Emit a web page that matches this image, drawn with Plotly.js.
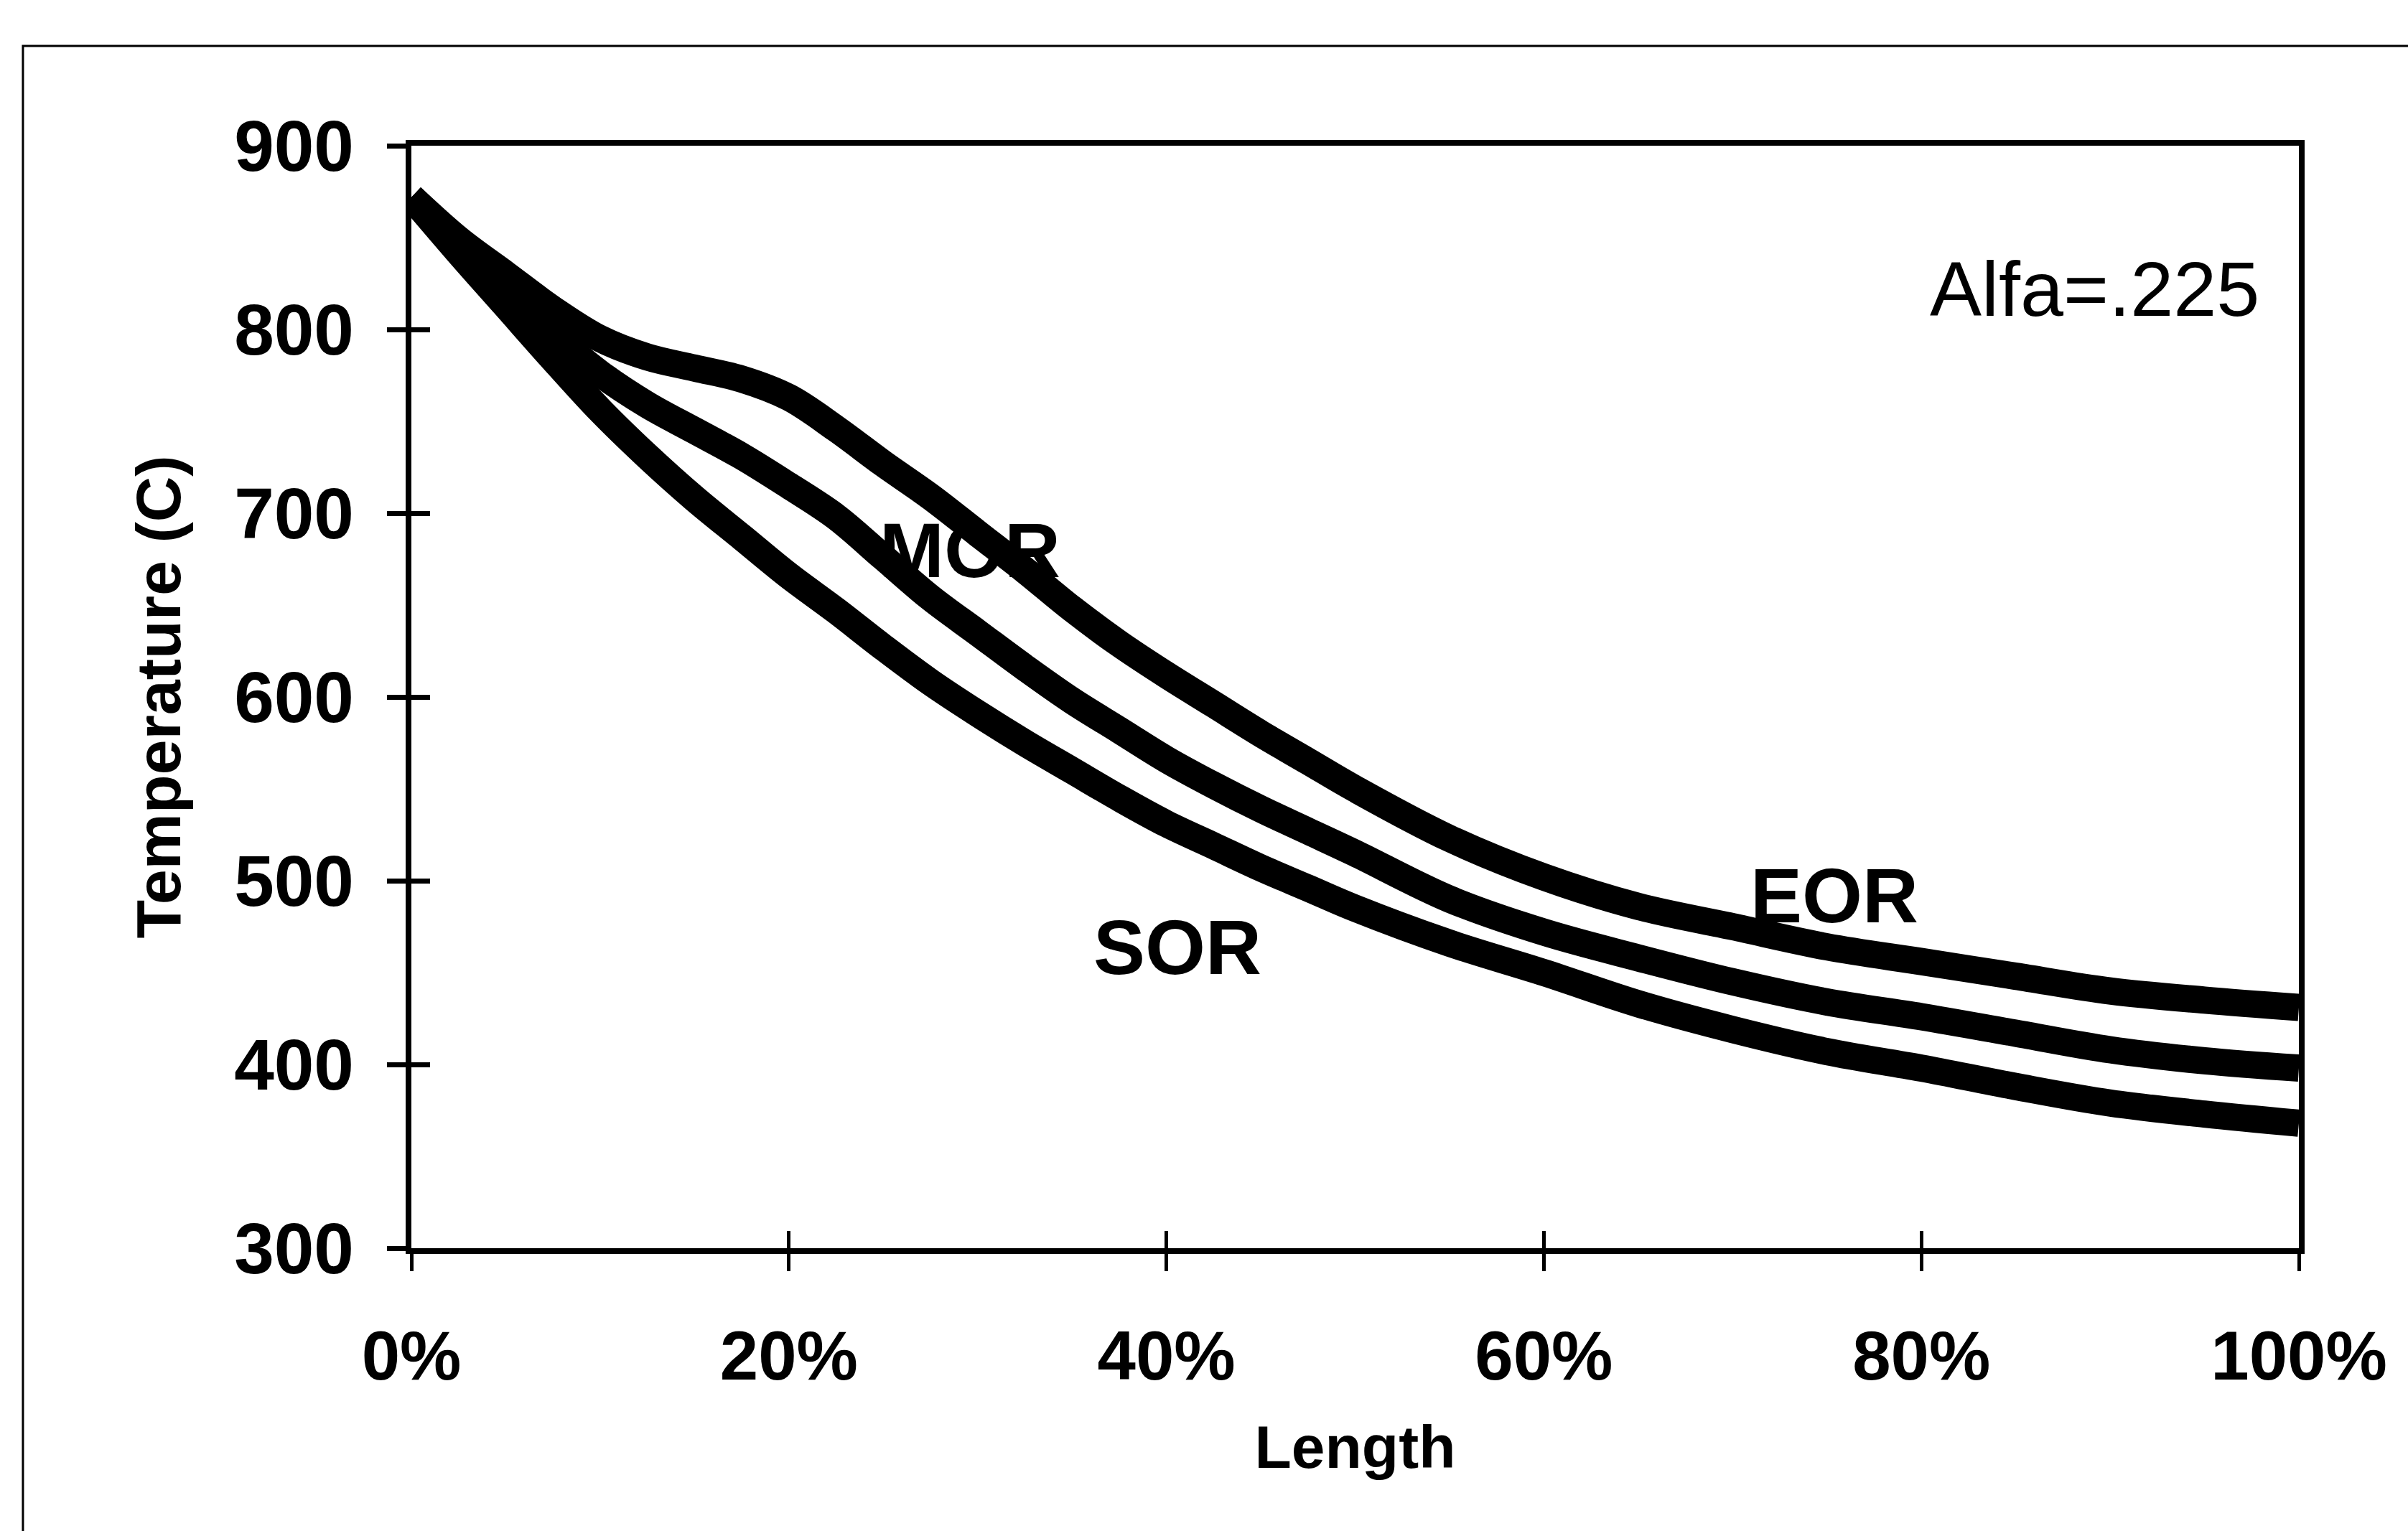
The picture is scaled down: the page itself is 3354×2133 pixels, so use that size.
<!DOCTYPE html>
<html>
<head>
<meta charset="utf-8">
<script src="https://cdn.plot.ly/plotly-3.0.1.min.js"></script>
<style>
  html, body { margin: 0; padding: 0; background: #ffffff; }
  #chart { width: 3354px; height: 2133px; }
</style>
</head>
<body>
<div id="chart"></div>
<script>
// Length along reactor (%)
const lengthPct = [0, 2.5, 5, 7.5, 10, 12.5, 15, 17.5, 20, 22.5, 25, 27.5, 30, 32.5, 35, 37.5, 40, 42.5, 45, 47.5, 50, 55, 60, 65, 70, 75, 80, 85, 90, 95, 100];

// Temperature (C) for each series
const eorTemp = [872, 849, 830, 811, 795, 785, 779, 773, 763, 746, 727, 709, 689, 669, 648, 629, 612, 596, 580, 565, 550, 523, 502, 486, 475, 464, 456, 448, 440, 435, 431];
const morTemp = [872, 844, 820, 797, 776, 759, 745, 731, 715, 698, 676, 654, 635, 616, 598, 582, 566, 552, 539, 527, 515, 490, 472, 458, 445, 434, 426, 417, 408, 402, 398];
const sorTemp = [872, 842, 813, 784, 756, 731, 708, 687, 666, 647, 627, 608, 591, 575, 560, 545, 531, 519, 507, 496, 485, 466, 450, 433, 419, 407, 398, 388, 379, 373, 368];

// Axis ticks
const xTickVals = [0, 20, 40, 60, 80, 100];
const xTickText = ['0%', '20%', '40%', '60%', '80%', '100%'];
const yTickVals = [300, 400, 500, 600, 700, 800, 900];

const lineStyle = { color: '#000000', width: 38, shape: 'spline', smoothing: 1 };

const traces = [
  { x: lengthPct, y: eorTemp, name: 'EOR', mode: 'lines', line: lineStyle, cliponaxis: false, xaxis: 'x', yaxis: 'y' },
  { x: lengthPct, y: morTemp, name: 'MOR', mode: 'lines', line: lineStyle, cliponaxis: false, xaxis: 'x', yaxis: 'y' },
  { x: lengthPct, y: sorTemp, name: 'SOR', mode: 'lines', line: lineStyle, cliponaxis: false, xaxis: 'x2', yaxis: 'y2' }
];

const fam = 'Liberation Sans, Arial, sans-serif';
const xTickFont = { family: fam, size: 96, color: '#000000', weight: 'bold' };
const yTickFont = { family: fam, size: 100, color: '#000000', weight: 'bold' };
const labelFont = { family: fam, size: 108, color: '#000000', weight: 'bold' };

const layout = {
  width: 3354,
  height: 2133,
  paper_bgcolor: '#ffffff',
  plot_bgcolor: '#ffffff',
  showlegend: false,
  margin: { l: 573, r: 152, t: 203, b: 394 },
  font: { family: fam, color: '#000000' },
  xaxis: {
    range: [0, 100],
    tickvals: xTickVals,
    ticktext: xTickText,
    ticks: 'outside',
    ticklen: 24,
    tickwidth: 5,
    tickcolor: '#000000',
    tickfont: xTickFont,
    ticklabelstandoff: 36,
    showgrid: false,
    zeroline: false,
    showline: true,
    linecolor: '#000000',
    linewidth: 8,
    mirror: true,
    title: { text: 'Length', font: { family: fam, size: 84, color: '#000000', weight: 'bold' }, standoff: 48 }
  },
  yaxis: {
    range: [300, 900],
    tickvals: yTickVals,
    ticks: 'outside',
    ticklen: 26,
    tickwidth: 7,
    tickcolor: '#000000',
    tickfont: yTickFont,
    ticklabelstandoff: 26,
    showgrid: false,
    zeroline: false,
    showline: true,
    linecolor: '#000000',
    linewidth: 8,
    mirror: true,
    title: { text: 'Temperature (C)', font: { family: fam, size: 88, color: '#000000', weight: 'bold' }, standoff: 48 }
  },
  xaxis2: {
    range: [0, 100],
    overlaying: 'x',
    anchor: 'y2',
    side: 'bottom',
    tickvals: xTickVals,
    ticks: 'inside',
    ticklen: 24,
    tickwidth: 5,
    tickcolor: '#000000',
    showticklabels: false,
    showgrid: false,
    zeroline: false,
    showline: false
  },
  yaxis2: {
    range: [300, 900],
    overlaying: 'y',
    anchor: 'x2',
    side: 'left',
    tickvals: yTickVals,
    ticks: 'inside',
    ticklen: 26,
    tickwidth: 7,
    tickcolor: '#000000',
    showticklabels: false,
    showgrid: false,
    zeroline: false,
    showline: false
  },
  annotations: [
    { xref: 'x', yref: 'y', x: 29.6, y: 680, text: 'MOR', showarrow: false, font: labelFont, xanchor: 'center', yanchor: 'middle' },
    { xref: 'x', yref: 'y', x: 75.4, y: 492, text: 'EOR', showarrow: false, font: labelFont, xanchor: 'center', yanchor: 'middle' },
    { xref: 'x', yref: 'y', x: 40.6, y: 464, text: 'SOR', showarrow: false, font: labelFont, xanchor: 'center', yanchor: 'middle' },
    { xref: 'x', yref: 'y', x: 98, y: 822, text: 'Alfa=.225', showarrow: false, font: { family: fam, size: 108, color: '#000000' }, xanchor: 'right', yanchor: 'middle' }
  ],
  shapes: [
    { type: 'rect', xref: 'paper', yref: 'paper', x0: -0.2058, x1: 1.07, y0: -0.27, y1: 1.0905, line: { color: '#000000', width: 3 }, fillcolor: 'rgba(0,0,0,0)', layer: 'below' }
  ]
};

Plotly.newPlot('chart', traces, layout, { displayModeBar: false, staticPlot: true });
</script>
</body>
</html>
